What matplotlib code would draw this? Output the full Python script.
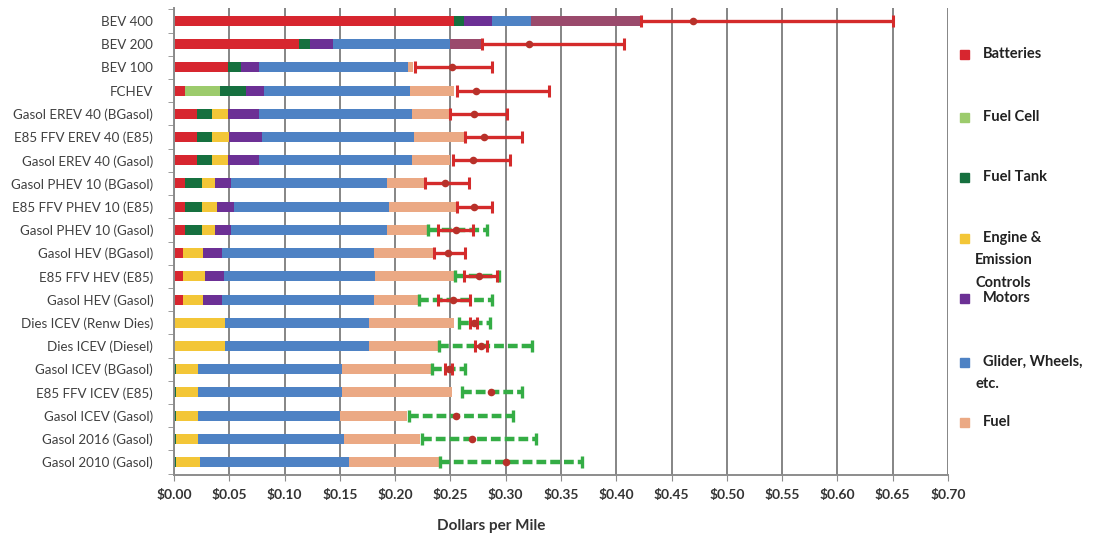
import numpy as np
import matplotlib
matplotlib.use("Agg")
import matplotlib.pyplot as plt
from matplotlib.patches import Rectangle

plt.rcParams['font.family'] = ['Lato', 'DejaVu Sans']

# ---- data (dollars per mile), top row first ----
vehicles = [
    "BEV 400", "BEV 200", "BEV 100", "FCHEV",
    "Gasol EREV 40 (BGasol)", "E85 FFV EREV 40 (E85)", "Gasol EREV 40 (Gasol)",
    "Gasol PHEV 10 (BGasol)", "E85 FFV PHEV 10 (E85)", "Gasol PHEV 10 (Gasol)",
    "Gasol HEV (BGasol)", "E85 FFV HEV (E85)", "Gasol HEV (Gasol)",
    "Dies ICEV (Renw Dies)", "Dies ICEV (Diesel)",
    "Gasol ICEV (BGasol)", "E85 FFV ICEV (E85)", "Gasol ICEV (Gasol)",
    "Gasol 2016 (Gasol)", "Gasol 2010 (Gasol)",
]

batteries = [0.253, 0.1126, 0.049, 0.010, 0.0205, 0.0205, 0.0205, 0.010, 0.010, 0.010,
             0.0085, 0.0085, 0.0085, 0.0, 0.0, 0.0, 0.0, 0.0, 0.0, 0.0]
fuel_cell = [0.0, 0.0, 0.0, 0.0317, 0.0, 0.0, 0.0, 0.0, 0.0, 0.0,
             0.0, 0.0, 0.0, 0.0, 0.0, 0.0, 0.0, 0.0, 0.0, 0.0]
fuel_tank = [0.009, 0.0104, 0.012, 0.0233, 0.0135, 0.0135, 0.0135, 0.015, 0.015, 0.015,
             0.0, 0.0, 0.0, 0.0, 0.0, 0.002, 0.002, 0.002, 0.002, 0.002]
engine = [0.0, 0.0, 0.0, 0.0, 0.015, 0.016, 0.015, 0.012, 0.0136, 0.012,
          0.018, 0.0195, 0.018, 0.046, 0.046, 0.020, 0.020, 0.020, 0.020, 0.0215]
motors = [0.026, 0.021, 0.016, 0.0165, 0.0283, 0.030, 0.028, 0.015, 0.0154, 0.015,
          0.0165, 0.017, 0.0165, 0.0, 0.0, 0.0, 0.0, 0.0, 0.0, 0.0]
glider = [0.0345, 0.106, 0.135, 0.1323, 0.138, 0.1368, 0.1383, 0.1406, 0.140, 0.1406,
          0.1376, 0.137, 0.1376, 0.130, 0.130, 0.130, 0.130, 0.128, 0.1314, 0.1345]
fuel = [0.0995, 0.029, 0.004, 0.0392, 0.0347, 0.0452, 0.0347, 0.0347, 0.062, 0.0364,
        0.0544, 0.071, 0.0407, 0.077, 0.0634, 0.080, 0.0995, 0.0607, 0.0694, 0.083]

# vehicle-cost uncertainty (red) and fuel-price uncertainty (green)
red_low = [0.422, 0.279, 0.218, 0.256, 0.250, 0.263, 0.252, 0.227, 0.256, 0.239,
           0.235, 0.262, 0.239, 0.268, 0.2726, 0.245, 0.287, 0.255, 0.2696, 0.300]
red_mid = [0.469, 0.321, 0.2515, 0.273, 0.271, 0.280, 0.270, 0.245, 0.271, 0.255,
           0.248, 0.276, 0.252, 0.271, 0.278, 0.2485, 0.287, 0.255, 0.2696, 0.300]
red_high = [0.650, 0.407, 0.288, 0.339, 0.301, 0.315, 0.304, 0.2666, 0.288, 0.270,
            0.2636, 0.292, 0.268, 0.274, 0.283, 0.2515, 0.287, 0.255, 0.2696, 0.300]
green_low = [np.nan] * 9 + [0.230, np.nan, 0.2545, 0.222, 0.2575, 0.2394, 0.233,
                            0.2606, 0.2123, 0.2243, 0.241]
green_high = [np.nan] * 9 + [0.283, np.nan, 0.294, 0.288, 0.286, 0.324, 0.2636,
                             0.315, 0.307, 0.327, 0.369]

components = [
    ("Batteries", batteries, "#d7262f"),
    ("Fuel Cell", fuel_cell, "#9ccb6c"),
    ("Fuel Tank", fuel_tank, "#16703f"),
    ("Engine &\nEmission\nControls", engine, "#f3c637"),
    ("Motors", motors, "#6c3095"),
    ("Glider, Wheels,\netc.", glider, "#4e82c4"),
    ("Fuel", fuel, "#eba984"),
]
electric_fuel_color = "#9a4a6c"

W, H = 1107, 537
fig = plt.figure(figsize=(W / 100, H / 100), dpi=100)
ax = fig.add_axes([174 / W, 1 - 475 / H, (948 - 174) / W, (475 - 8) / H])

y = np.arange(len(vehicles))
left = np.zeros(len(vehicles))
bar_h = 0.43
for name, vals, col in components:
    vals = np.asarray(vals)
    colors = [col] * len(vals)
    if name == "Fuel":
        colors[0] = electric_fuel_color
        colors[1] = electric_fuel_color
    ax.barh(y, vals, left=left, height=bar_h, color=colors, edgecolor="none", zorder=2)
    left += vals

# red uncertainty ranges
rl, rm, rh = map(np.asarray, (red_low, red_mid, red_high))
rng = rh > rl
ax.errorbar(rm[rng], y[rng], xerr=[rm[rng] - rl[rng], rh[rng] - rm[rng]], fmt="none",
            ecolor="#d42b2b", elinewidth=2.4, capsize=4.5, capthick=2.2, zorder=4)

# green (dashed) fuel-price ranges
gl, gh = np.asarray(green_low), np.asarray(green_high)
gm = ~np.isnan(gl)
gmid = (gl + gh) / 2
eb = ax.errorbar(gmid[gm], y[gm], xerr=[gmid[gm] - gl[gm], gh[gm] - gmid[gm]], fmt="none",
                 ecolor="#34ad45", elinewidth=3.2, capsize=4.5, capthick=2.4, zorder=3)
eb[2][0].set_linestyle((0, (2.2, 0.9)))

ax.scatter(rm, y, s=30, color="#b8312a", zorder=5, linewidths=0)

ax.set_xlim(0, 0.70)
ax.set_ylim(len(vehicles) - 0.44, -0.56)
ax.set_xticks(np.arange(0, 0.701, 0.05))
ax.set_xticklabels([f"${v:.2f}" for v in np.arange(0, 0.701, 0.05)],
                   fontsize=10, fontweight="bold", color="#333333")
ax.set_yticks(y)
ax.set_yticklabels(vehicles, fontsize=9.6, color="#404040")
ax.set_yticks(np.arange(-0.5, len(vehicles), 1.0), minor=True)
ax.tick_params(axis="y", which="major", length=0, pad=15)
ax.tick_params(axis="y", which="minor", length=4, color="#8c8c8c", direction="out")
ax.tick_params(axis="x", length=4, color="#8c8c8c", direction="out", pad=6)
ax.grid(axis="x", color="#858585", linewidth=1.4, zorder=0)
ax.set_axisbelow(True)
for s in ("top", "right"):
    ax.spines[s].set_visible(False)
for s in ("left", "bottom"):
    ax.spines[s].set_color("#8c8c8c")
    ax.spines[s].set_linewidth(1.4)

ax.set_xlabel("Dollars per Mile", fontsize=11, fontweight="bold", color="#333333")
ax.xaxis.set_label_coords((491 - 174) / (948 - 174), -0.095)

# legend column on the right
legend_rows = [54, 117, 177, 238, 298, 362, 422]
for (name, _, col), yc in zip(components, legend_rows):
    fig.add_artist(Rectangle((960 / W, 1 - (yc + 5) / H), 9 / W, 9 / H,
                             transform=fig.transFigure, color=col))
    lines = name.split("\n")
    fig.text(983 / W, 1 - yc / H, lines[0], fontsize=10.5, fontweight="bold",
             color="#222222", va="center", ha="left")
    for k, extra in enumerate(lines[1:], start=1):
        fig.text(975 / W, 1 - (yc + 22.5 * k) / H, extra, fontsize=10.5, fontweight="bold",
                 color="#222222", va="center", ha="left")

fig.savefig("out.png", dpi=100, facecolor="white")
